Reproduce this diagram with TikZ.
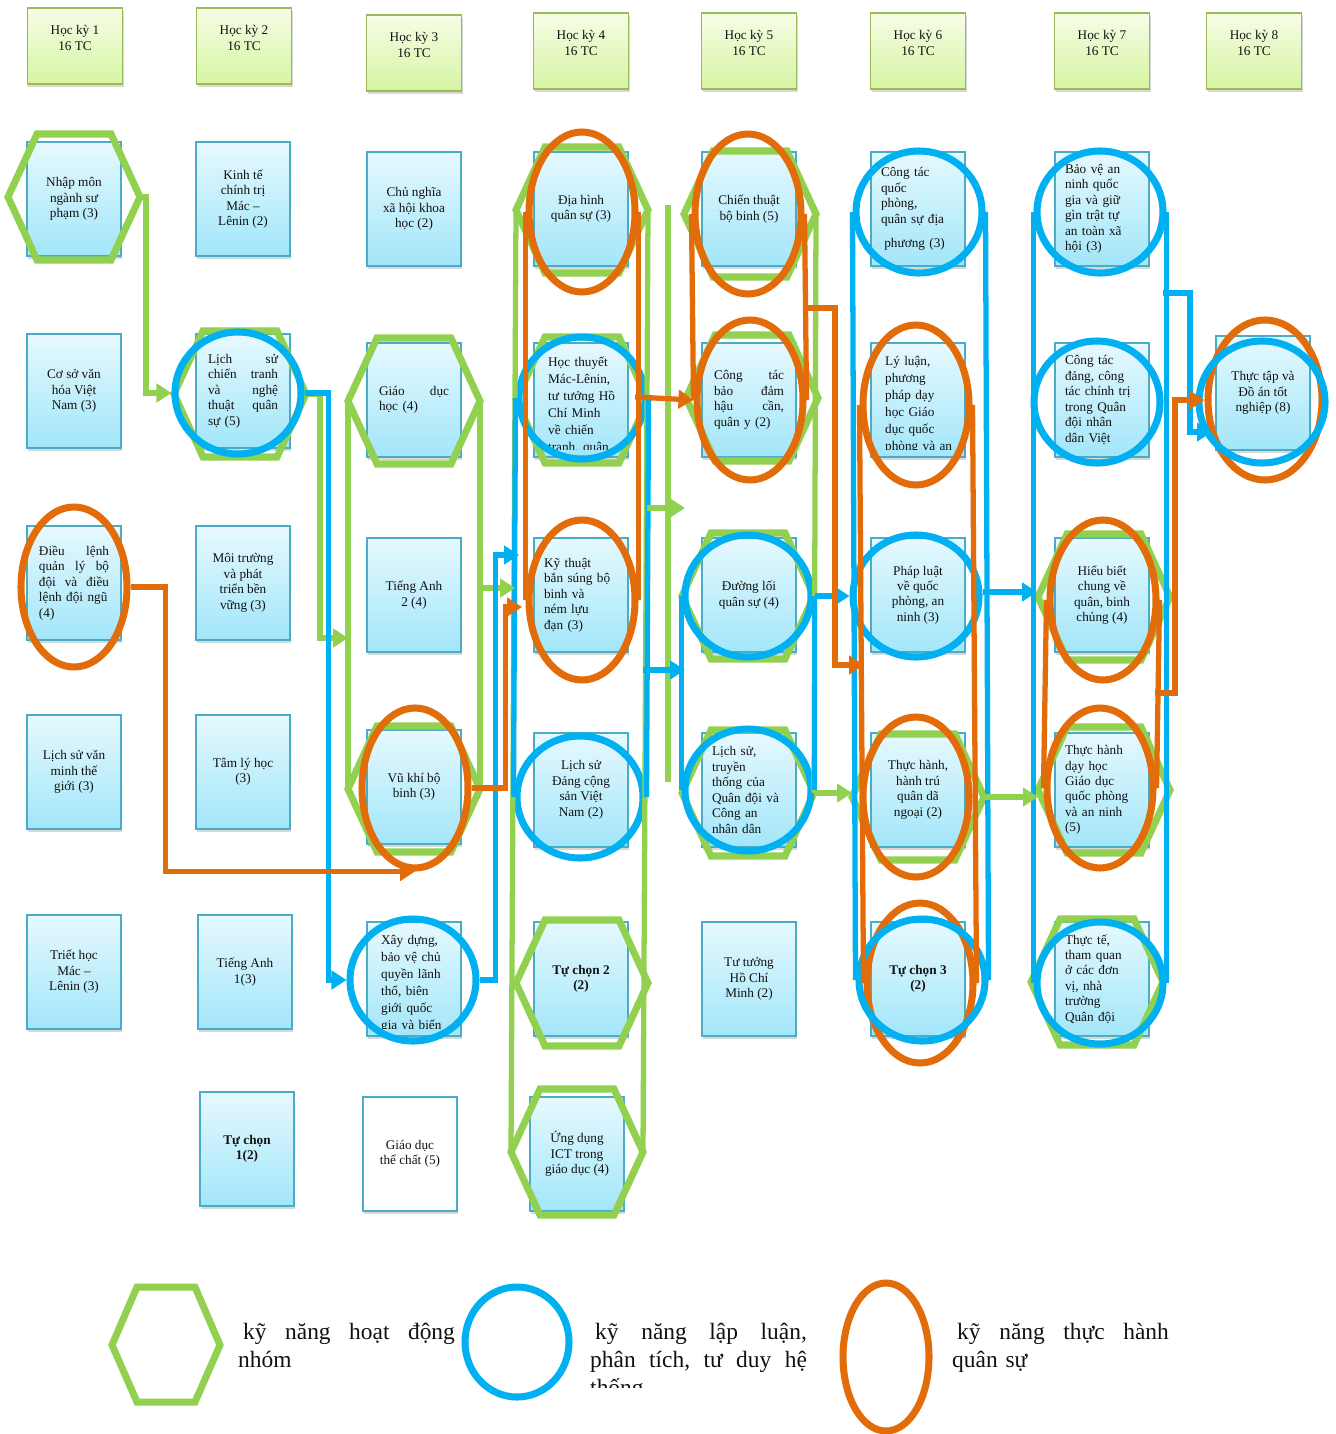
\documentclass[tikz,border=0pt]{standalone}
\usepackage{fontspec}
\setmainfont{Liberation Serif}
\usetikzlibrary{arrows.meta,positioning,calc,shapes.geometric,shadows}
\definecolor{Ink}{HTML}{111111}
\definecolor{BoxLine}{HTML}{4BACC6}
\definecolor{BoxTop}{HTML}{E6F9FE}
\definecolor{BoxBot}{HTML}{A2E6FA}
\definecolor{HeadLine}{HTML}{9BBB59}
\definecolor{HeadTop}{HTML}{F6FDE6}
\definecolor{HeadBot}{HTML}{D6F5A2}
\definecolor{SkGreen}{HTML}{92D050}
\definecolor{SkBlue}{HTML}{00B0F0}
\definecolor{SkOrange}{HTML}{E36C0A}
\newcommand{\skillhex}[3]{%
  \coordinate (#1w) at (#2-66,#3);
  \coordinate (#1e) at (#2+66,#3);
  \draw[hexline] (#2-37,#3-63) -- (#2+37,#3-63) -- (#1e) -- (#2+37,#3+63) -- (#2-37,#3+63) -- (#1w) -- cycle;}
\tikzset{
  semester/.style={draw=HeadLine,line width=1.4pt,top color=HeadTop,bottom color=HeadBot,minimum width=2.85cm,minimum height=2.28cm,align=center,text depth=0.48cm,font=\fontsize{11.3}{13.2}\selectfont,text=Ink,drop shadow={opacity=0.3,shadow xshift=0.03cm,shadow yshift=-0.1cm}},
  course/.style={draw=BoxLine,line width=1.4pt,top color=BoxTop,bottom color=BoxBot,minimum width=2.82cm,minimum height=3.42cm,align=center,font=\fontsize{11.3}{13.2}\selectfont,text=Ink,drop shadow={opacity=0.3,shadow xshift=0.03cm,shadow yshift=-0.1cm}},
  justcourse/.style={course,text width=2.1cm,align=left},
  leftcourse/.style={course,text width=2.22cm,align=left},
  boldcourse/.style={course,font=\fontsize{11.3}{13.2}\selectfont\bfseries},
  plaincourse/.style={course,top color=white,bottom color=white},
  cutlines/.style={anchor=north west,inner sep=0pt,minimum width=0pt,minimum height=0pt,text width=2.3cm,align=left,font=\fontsize{11.3}{14.5}\selectfont,text=Ink},
  cuttext/.style={path picture={\clip ([yshift=0.22cm]path picture bounding box.south west) rectangle (path picture bounding box.north east);
    \node[cutlines] at ([xshift=0.4cm,yshift=-0.38cm]path picture bounding box.north west) {#1};}},
  hexline/.style={draw=SkGreen,line width=6pt},
  blueskill/.style={ellipse,draw=SkBlue,line width=6pt,minimum width=3.78cm,minimum height=3.66cm,inner sep=0pt},
  orangeskill/.style={ellipse,draw=SkOrange,line width=6pt,minimum width=3.18cm,minimum height=4.8cm,inner sep=0pt},
  gline/.style={draw=SkGreen,line width=4.5pt},
  bline/.style={draw=SkBlue,line width=4.5pt},
  oline/.style={draw=SkOrange,line width=4.5pt},
  garrow/.style={gline,-{Triangle[length=0.45cm,width=0.55cm]}},
  barrow/.style={bline,-{Triangle[length=0.45cm,width=0.55cm]}},
  oarrow/.style={oline,-{Triangle[length=0.45cm,width=0.55cm]}},
  legendtext/.style={anchor=north west,text width=6.5cm,align=left,font=\fontsize{20}{24}\selectfont,text=Ink,inner sep=0pt}
}

\begin{document}
\begin{tikzpicture}[x=0.03cm,y=-0.03cm]
  \fill[white] (0,0) rectangle (1335,1434);
  \useasboundingbox (0,0) rectangle (1335,1434);

  % semesters
  \node[semester] (hk1) at (75,46) {Học kỳ 1\\16 TC};
  \node[semester] (hk2) at (244,46) {Học kỳ 2\\16 TC};
  \node[semester] (hk3) at (414,53) {Học kỳ 3\\16 TC};
  \node[semester] (hk4) at (581,51) {Học kỳ 4\\16 TC};
  \node[semester] (hk5) at (749,51) {Học kỳ 5\\16 TC};
  \node[semester] (hk6) at (918,51) {Học kỳ 6\\16 TC};
  \node[semester] (hk7) at (1102,51) {Học kỳ 7\\16 TC};
  \node[semester] (hk8) at (1254,51) {Học kỳ 8\\16 TC};

  % semester 1
  \node[course] (nhapmon) at (74,199) {Nhập môn\\ngành sư\\phạm (3)};
  \node[course] (cosovh) at (74,391) {Cơ sở văn\\hóa Việt\\Nam (3)};
  \node[justcourse] (dieulenh) at (74,583) {Điều\hfill lệnh\\quản\hfill lý\hfill bộ\\đội\hfill và\hfill điều\\lệnh đội ngũ\\(4)};
  \node[course] (lsvm) at (74,772) {Lịch sử văn\\minh thế\\giới (3)};
  \node[course] (triet) at (74,972) {Triết học\\Mác –\\Lênin (3)};
  % semester 2
  \node[course] (kinhte) at (243,199) {Kinh tế\\chính trị\\Mác –\\Lênin (2)};
  \node[justcourse] (lscc) at (243,391) {Lịch\hfill sử\\chiến\hfill tranh\\và\hfill nghệ\\thuật\hfill quân\\sự (5)};
  \node[course] (moitruong) at (243,583) {Môi trường\\và phát\\triển bền\\vững (3)};
  \node[course] (tamly) at (243,772) {Tâm lý học\\(3)};
  \node[course] (ta1) at (245,972) {Tiếng Anh\\1(3)};
  \node[boldcourse] (tc1) at (247,1149) {Tự chọn\\1(2)};
  % semester 3
  \node[course] (cnxh) at (414,209) {Chủ nghĩa\\xã hội khoa\\học (2)};
  \node[justcourse] (gdh) at (414,400) {Giáo\hfill dục\\học (4)};
  \node[course] (ta2) at (414,595) {Tiếng Anh\\2 (4)};
  \node[course] (vukhi) at (414,787) {Vũ khí bộ\\binh (3)};
  \node[course,cuttext={Xây dựng,\\bảo vệ chủ\\quyền lãnh\\thổ, biên\\giới quốc\\gia và biển}] (xaydung) at (414,979) {};
  \node[plaincourse] (gdtc) at (410,1154) {Giáo dục\\thể chất (5)};
  % semester 4
  \node[course] (diahinh) at (581,209) {Địa hình\\quân sự (3)};
  \node[course,cuttext={Học thuyết\\Mác-Lênin,\\tư tưởng Hồ\\Chí Minh\\về chiến\\tranh, quân}] (hocthuyet) at (581,400) {};
  \node[leftcourse] (kythuat) at (581,595) {Kỹ thuật\\bắn súng bộ\\binh và\\ném lựu\\đạn (3)};
  \node[course] (lsdang) at (581,790) {Lịch sử\\Đảng cộng\\sản Việt\\Nam (2)};
  \node[boldcourse] (tc2) at (581,979) {Tự chọn 2\\(2)};
  \node[course] (ict) at (577,1154) {Ứng dụng\\ICT trong\\giáo dục (4)};
  % semester 5
  \node[course] (chienthuat) at (749,209) {Chiến thuật\\bộ binh (5)};
  \node[justcourse] (haucan) at (749,400) {Công\hfill tác\\bảo\hfill đảm\\hậu\hfill cần,\\quân y (2)};
  \node[course] (duongloi) at (749,595) {Đường lối\\quân sự (4)};
  \node[leftcourse] (lstt) at (749,790) {Lịch sử,\\truyền\\thống của\\Quân đội và\\Công an\\nhân dân};
  \node[course] (tthcm) at (749,979) {Tư tưởng\\Hồ Chí\\Minh (2)};
  % semester 6
  \node[leftcourse] (ctqp) at (918,209) {Công tác\\quốc\\phòng,\\quân sự địa\\[0.26cm]\hspace*{0.1cm}phương (3)};
  \node[course,cuttext={Lý luận,\\phương\\pháp dạy\\học Giáo\\dục quốc\\phòng và an}] (lyluan) at (918,400) {};
  \node[course] (phapluat) at (918,595) {Pháp luật\\về quốc\\phòng, an\\ninh (3)};
  \node[course] (hanhtru) at (918,790) {Thực hành,\\hành trú\\quân dã\\ngoại (2)};
  \node[boldcourse] (tc3) at (918,979) {Tự chọn 3\\(2)};
  % semester 7
  \node[leftcourse] (baove) at (1102,209) {Bảo vệ an\\ninh quốc\\gia và giữ\\gìn trật tự\\an toàn xã\\hội (3)};
  \node[leftcourse] (ctdang) at (1102,400) {Công tác\\đảng, công\\tác chính trị\\trong Quân\\đội nhân\\dân Việt};
  \node[course] (hieubiet) at (1102,595) {Hiểu biết\\chung về\\quân, binh\\chủng (4)};
  \node[leftcourse] (dayhoc) at (1102,790) {Thực hành\\dạy học\\Giáo dục\\quốc phòng\\và an ninh\\(5)};
  \node[leftcourse] (thucte) at (1102,979) {Thực tế,\\tham quan\\ở các đơn\\vị, nhà\\trường\\Quân đội};
  % semester 8
  \node[course] (thuctap) at (1263,393) {Thực tập và\\Đồ án tốt\\nghiệp (8)};

  % green: group work
  \skillhex{nhapmonG}{74}{197}
  \skillhex{lsccG}{240}{394}
  \skillhex{gdhG}{414}{401}
  \skillhex{vukhiG}{414}{789}
  \skillhex{diahinhG}{582}{210}
  \skillhex{hocthuyetG}{582}{400}
  \skillhex{tcGG}{582}{983}
  \skillhex{ictG}{577}{1152}
  \skillhex{chienthuatG}{750}{214}
  \skillhex{haucanG}{752}{398}
  \skillhex{duongloiG}{748}{596}
  \skillhex{lsttG}{748}{793}
  \skillhex{hanhtruG}{918}{797}
  \skillhex{hieubietG}{1104}{597}
  \skillhex{dayhocG}{1104}{790}
  \skillhex{thucteG}{1097}{982}

  % orange: military practice
  \node[orangeskill] (dieulenhO) at (74,587) {};
  \node[orangeskill] (vukhiO) at (415,788) {};
  \node[orangeskill] (diahinhO) at (582,212) {};
  \node[orangeskill] (kythuatO) at (582,600) {};
  \node[orangeskill] (chienthuatO) at (748,214) {};
  \node[orangeskill] (haucanO) at (750,400) {};
  \node[orangeskill] (lyluanO) at (916,405) {};
  \node[orangeskill] (hanhtruO) at (916,797) {};
  \node[orangeskill] (tc3O) at (920,983) {};
  \node[orangeskill] (hieubietO) at (1103,600) {};
  \node[orangeskill] (dayhocO) at (1100,788) {};
  \node[orangeskill,minimum width=3.42cm] (thuctapO) at (1265,400) {};

  % blue: reasoning
  \node[blueskill] (lsccB) at (238,393) {};
  \node[blueskill] (xaydungB) at (413,980) {};
  \node[blueskill] (hocthuyetB) at (582,398) {};
  \node[blueskill] (lsdangB) at (580,797) {};
  \node[blueskill] (duongloiB) at (748,596) {};
  \node[blueskill] (lsttB) at (748,790) {};
  \node[blueskill] (ctqpB) at (919,212) {};
  \node[blueskill] (phapluatB) at (916,596) {};
  \node[blueskill] (tc3B) at (922,980) {};
  \node[blueskill] (baoveB) at (1100,212) {};
  \node[blueskill] (ctdangB) at (1097,402) {};
  \node[blueskill] (thucteB) at (1100,983) {};
  \node[blueskill] (thuctapB) at (1262,402) {};

  % free ends on the group lines
  \coordinate (g3L) at (348,638);
  \coordinate (g3R) at (481,588);
  \coordinate (g4L) at (515,588);
  \coordinate (g4R) at (647,508);
  \coordinate (g5L) at (685,508);
  \coordinate (g5top) at (668,205);
  \coordinate (g5bot) at (668,782);
  \coordinate (b4L) at (519,555);
  \coordinate (b4R) at (643,670);
  \coordinate (b5L) at (685,670);
  \coordinate (b6R) at (983,592);
  \coordinate (b7L) at (1037,592);
  \coordinate (b7R) at (1163,293);
  \coordinate (b8in) at (1212,432);
  \coordinate (o4L) at (522,607);
  \coordinate (o4R) at (635,397);
  \coordinate (o5R) at (803,308);
  \coordinate (o6L) at (864,665);
  \coordinate (o7R) at (1155,693);

  % group lines
  \draw[gline] (gdhGw) -- (vukhiGw);
  \draw[gline] (gdhGe) -- (vukhiGe);
  \draw[gline] (diahinhGw) -- (ictGw);
  \draw[gline] (diahinhGe) -- (ictGe);
  \draw[gline] (g5top) -- (g5bot);
  \draw[gline] (chienthuatGe) -- (lsttGe);
  \draw[oline] (diahinhO.west) -- (kythuatO.west);
  \draw[oline] (diahinhO.east) -- (kythuatO.east);
  \draw[oline] (chienthuatO.west) -- (haucanO.west);
  \draw[oline] (chienthuatO.east) -- (haucanO.east);
  \draw[oline] (lyluanO.west) -- (tc3O.west);
  \draw[oline] (lyluanO.east) -- (tc3O.east);
  \draw[oline] (hieubietO.west) -- (dayhocO.west);
  \draw[oline] (hieubietO.east) -- (dayhocO.east);
  \draw[bline] (hocthuyetB.west) -- (lsdangB.west);
  \draw[bline] (hocthuyetB.east) -- (lsdangB.east);
  \draw[bline] (duongloiB.west) -- (lsttB.west);
  \draw[bline] (duongloiB.east) -- (lsttB.east);
  \draw[bline] (ctqpB.west) -- (tc3B.west);
  \draw[bline] (ctqpB.east) -- (tc3B.east);
  \draw[bline] (baoveB.west) -- (thucteB.west);
  \draw[bline] (baoveB.east) -- (thucteB.east);

  % connectors
  \draw[garrow] (nhapmonGe) -- ++(6,0) |- (lsccB.west);
  \draw[garrow] (lsccGe) -- ++(14,0) |- (g3L);
  \draw[garrow] (g3R) -- (g4L);
  \draw[garrow] (g4R) -- (g5L);
  \draw[garrow] (lsttGe) -- (lsttGe -| hanhtruGw);
  \draw[garrow] (hanhtruGe) -- (hanhtruGe -| dayhocGw);
  \draw[barrow] (lsccB.east) -- ++(24,0) |- (xaydungB.west);
  \draw[barrow] (xaydungB.east) -- ++(16,0) |- (b4L);
  \draw[barrow] (b4R) -- (b5L);
  \draw[barrow] (duongloiB.east) -- (phapluatB.west);
  \draw[barrow] (b6R) -- (b7L);
  \draw[barrow] (b7R) -- ++(27,0) |- (b8in);
  \draw[oarrow] (dieulenhO.east) -- ++(35,0) |- (vukhiO.south);
  \draw[oarrow] (vukhiO.east) -- ++(34,0) |- (o4L);
  \draw[oarrow] (o4R) -- (haucanO.west);
  \draw[oarrow] (o5R) -- ++(32,0) |- (o6L);
  \draw[oarrow] (o7R) -- ++(20,0) |- (thuctapO.west);

  % legend
  \draw[hexline] (137,1287) -- (195,1287) -- (220,1345) -- (195,1402) -- (137,1402) -- (112,1345) -- cycle;
  \node[legendtext] (lgGreen) at (238,1323) {\hspace*{0.15cm}kỹ\hfill năng\hfill hoạt\hfill động\\nhóm};
  \node[blueskill,minimum width=3.12cm,minimum height=3.3cm] (lgBlueMark) at (517,1342) {};
  \begin{scope}
    \clip (585,1300) rectangle (820,1387);
    \node[legendtext] (lgBlue) at (590,1323) {\hspace*{0.15cm}kỹ\hfill năng\hfill lập\hfill luận,\\phân\hfill tích,\hfill tư\hfill duy\hfill hệ\\thống};
  \end{scope}
  \node[orangeskill,minimum width=2.58cm,minimum height=4.44cm] (lgOrangeMark) at (886,1357) {};
  \node[legendtext] (lgOrange) at (952,1323) {\hspace*{0.15cm}kỹ\hfill năng\hfill thực\hfill hành\\quân sự};
\end{tikzpicture}
\end{document}
